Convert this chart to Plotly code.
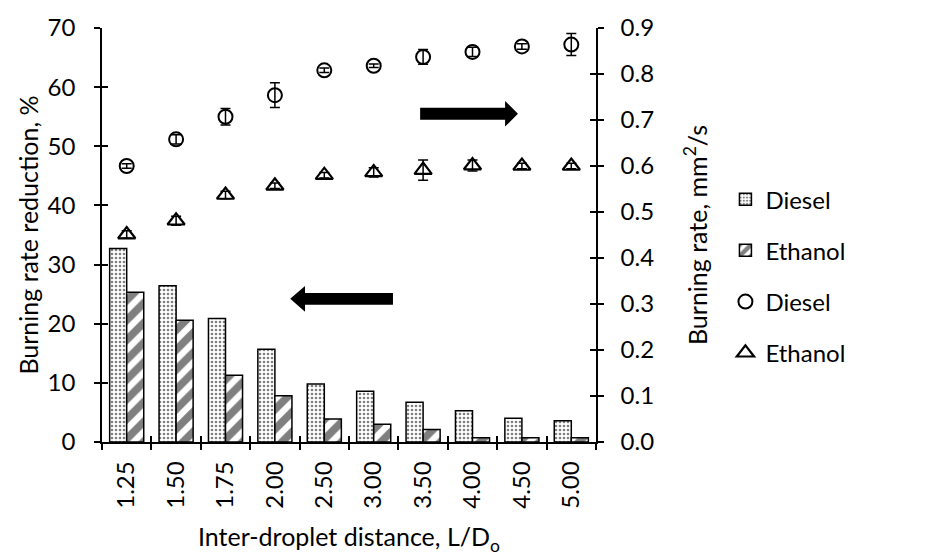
import plotly.graph_objects as go

# Inter-droplet distance categories (L/Do)
distance = ["1.25", "1.50", "1.75", "2.00", "2.50", "3.00", "3.50", "4.00", "4.50", "5.00"]

# Burning rate reduction, % (left axis, bars)
reduction_diesel = [32.7, 26.4, 20.9, 15.7, 9.8, 8.6, 6.7, 5.3, 4.0, 3.6]
reduction_ethanol = [25.3, 20.6, 11.3, 7.8, 3.9, 3.0, 2.1, 0.7, 0.7, 0.7]

# Burning rate, mm^2/s (right axis, markers) with error bars
rate_diesel = [0.600, 0.658, 0.707, 0.754, 0.808, 0.818, 0.837, 0.848, 0.860, 0.864]
rate_diesel_err = [0.005, 0.010, 0.018, 0.027, 0.005, 0.004, 0.016, 0.010, 0.006, 0.024]
rate_ethanol = [0.451, 0.481, 0.537, 0.557, 0.580, 0.586, 0.591, 0.601, 0.600, 0.600]
rate_ethanol_err = [0.008, 0.010, 0.008, 0.006, 0.006, 0.010, 0.022, 0.012, 0.006, 0.006]

FONT = "Lato"
TICK_FS = 24
TITLE_FS = 25
LEGEND_FS = 24

fig = go.Figure()

fig.add_trace(go.Bar(
    x=distance, y=reduction_diesel, name="Diesel", legendgroup="a",
    marker=dict(color="white", line=dict(color="black", width=1.5),
                pattern=dict(shape=".", fgcolor="black", bgcolor="white",
                             size=4, solidity=0.35)),
))
fig.add_trace(go.Bar(
    x=distance, y=reduction_ethanol, name="Ethanol", legendgroup="b",
    marker=dict(color="white", line=dict(color="black", width=1.5),
                pattern=dict(shape="/", fgcolor="black", bgcolor="white",
                             size=14, solidity=0.55)),
))
fig.add_trace(go.Scatter(
    x=distance, y=rate_diesel, name="Diesel", legendgroup="c", yaxis="y2",
    mode="markers",
    marker=dict(symbol="circle-open", size=14, color="black", line=dict(width=2)),
    error_y=dict(type="data", array=rate_diesel_err, color="black",
                 thickness=1.5, width=5),
))
fig.add_trace(go.Scatter(
    x=distance, y=rate_ethanol, name="Ethanol", legendgroup="d", yaxis="y2",
    mode="markers",
    marker=dict(symbol="triangle-up-open", size=15, color="black", line=dict(width=2.2)),
    error_y=dict(type="data", array=rate_ethanol_err, color="black",
                 thickness=1.5, width=5),
))

# Invisible helper traces so the companion axes (inner halves of the cross ticks) render
fig.add_trace(go.Scatter(x=[0], y=[0], xaxis="x2", yaxis="y3", mode="markers",
                         marker=dict(opacity=0), showlegend=False, hoverinfo="skip"))
fig.add_trace(go.Scatter(x=[0], y=[0], xaxis="x2", yaxis="y4", mode="markers",
                         marker=dict(opacity=0), showlegend=False, hoverinfo="skip"))

axis_common = dict(showline=True, linecolor="black", linewidth=1.5,
                   tickcolor="black", tickwidth=1.5, showgrid=False, zeroline=False,
                   tickfont=dict(family=FONT, size=TICK_FS, color="black"))
title_font = dict(family=FONT, size=TITLE_FS, color="black")

fig.update_layout(
    width=928, height=559,
    margin=dict(l=102, r=332, t=23, b=116),
    paper_bgcolor="white", plot_bgcolor="white",
    font=dict(family=FONT, size=TICK_FS, color="black"),
    barmode="group", bargap=0.31, bargroupgap=0,
    showlegend=True,
    legend=dict(x=1.262, xanchor="left", y=0.64, yanchor="top",
                tracegroupgap=17, itemwidth=30,
                font=dict(family=FONT, size=LEGEND_FS, color="black"),
                bgcolor="rgba(0,0,0,0)"),
    xaxis=dict(**axis_common, type="category", categoryarray=distance,
               ticks="outside", ticklen=6, tickson="boundaries", tickangle=-90,
               ticklabelstandoff=8,
               title=dict(text="Inter-droplet distance, L/D<sub>o</sub>",
                          standoff=21, font=title_font),
               range=[-0.5, 9.5]),
    xaxis2=dict(overlaying="x", range=[-0.5, 9.5], tick0=-0.5, dtick=1,
                ticks="inside", ticklen=6, tickcolor="black", tickwidth=1.5,
                showticklabels=False, showgrid=False, zeroline=False,
                showline=False, anchor="y", side="bottom"),
    yaxis=dict(**axis_common, range=[0, 70], dtick=10, ticks="outside", ticklen=6,
               ticklabelstandoff=14,
               title=dict(text="Burning rate reduction, %", standoff=2, font=title_font)),
    yaxis2=dict(**axis_common, overlaying="y", side="right", range=[0, 0.9],
                dtick=0.1, tickformat=".1f", ticks="outside", ticklen=6,
                ticklabelstandoff=12,
                title=dict(text="Burning rate, mm<sup>2</sup>/s", standoff=36,
                           font=title_font)),
    yaxis3=dict(overlaying="y", side="left", range=[0, 70], dtick=10,
                ticks="inside", ticklen=6, tickcolor="black", tickwidth=1.5,
                showticklabels=False, showgrid=False, zeroline=False, showline=False),
    yaxis4=dict(overlaying="y", side="right", range=[0, 0.9], dtick=0.1,
                ticks="inside", ticklen=6, tickcolor="black", tickwidth=1.5,
                showticklabels=False, showgrid=False, zeroline=False, showline=False),
)

# Block arrows pointing to the axis each data set belongs to
def block_arrow(x_tail, x_tip, x_head, yc, shaft, head, yref):
    path = (f"M {x_tail},{yc - shaft} L {x_head},{yc - shaft} L {x_head},{yc - head} "
            f"L {x_tip},{yc} L {x_head},{yc + head} L {x_head},{yc + shaft} "
            f"L {x_tail},{yc + shaft} Z")
    fig.add_shape(type="path", path=path, xref="x", yref=yref,
                  fillcolor="black", line=dict(color="black", width=0))

block_arrow(5.94, 7.92, 7.66, 0.7136, 0.0129, 0.0279, "y2")
block_arrow(5.39, 3.31, 3.61, 24.2, 1.0, 2.17, "y")

fig.write_html("out.html")
